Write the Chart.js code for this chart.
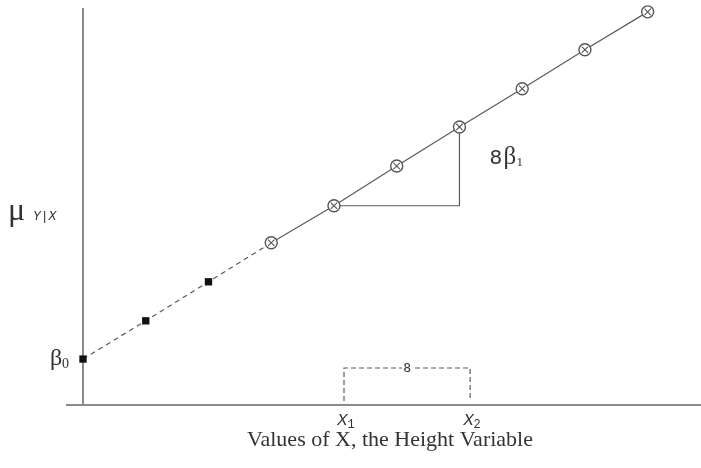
<!DOCTYPE html>
<html>
<head>
<meta charset="utf-8">
<script src="https://cdn.jsdelivr.net/npm/chart.js@4.4.0/dist/chart.umd.min.js"></script>
<style>
  html, body { margin: 0; padding: 0; background: #fff; }
  #wrap { width: 701px; height: 468px; }
</style>
</head>
<body>
<div id="wrap"><canvas id="line-chart" width="701" height="468"></canvas></div>
<script>
// values (y in units of the slope)
const xVals = [0, 1, 2, 3, 4, 5, 6, 7, 8, 9];
const yVals = [1.19, 2.18, 3.19, 4.20, 5.16, 6.19, 7.20, 8.19, 9.20, 10.18];
const squareIdx = [0, 1, 2];
const circleIdx = [3, 4, 5, 6, 7, 8, 9];
const dashedIdx = [0, 1, 2, 3];
const bracketX = [4.16, 6.17];   // X1, X2
const triangleIdx = [4, 6];      // run from point 4 to point 6

const pts = idx => idx.map(i => ({ x: xVals[i], y: yVals[i] }));

const lineColor = '#5a5a5a';
const axisColor = '#8a8a8a';
const textColor = '#333';

const annotations = {
  id: 'annotations',
  beforeDatasetsDraw(chart) {
    const ctx = chart.ctx;
    const xs = chart.scales.x, ys = chart.scales.y;
    const px = v => xs.getPixelForValue(v);
    const py = v => ys.getPixelForValue(v);
    ctx.save();
    ctx.strokeStyle = axisColor;
    ctx.lineWidth = 2;
    ctx.beginPath();
    ctx.moveTo(px(0), chart.chartArea.top);
    ctx.lineTo(px(0), py(0));
    ctx.moveTo(chart.chartArea.left, py(0));
    ctx.lineTo(chart.width, py(0));
    ctx.stroke();
    ctx.restore();
  },
  afterDatasetsDraw(chart) {
    const ctx = chart.ctx;
    const xs = chart.scales.x, ys = chart.scales.y;
    const px = v => xs.getPixelForValue(v);
    const py = v => ys.getPixelForValue(v);
    const xAxisY = py(0);

    ctx.save();
    // slope triangle
    const a = triangleIdx[0], b = triangleIdx[1];
    ctx.strokeStyle = lineColor;
    ctx.lineWidth = 1.2;
    ctx.beginPath();
    ctx.moveTo(px(xVals[a]) + 6, py(yVals[a]));
    ctx.lineTo(px(xVals[b]), py(yVals[a]));
    ctx.lineTo(px(xVals[b]), py(yVals[b]) + 6);
    ctx.stroke();

    // bracket between X1 and X2
    const bx1 = px(bracketX[0]), bx2 = px(bracketX[1]);
    const bTop = xAxisY - 37;
    ctx.setLineDash([5, 3]);
    ctx.beginPath();
    ctx.moveTo(bx1, xAxisY - 4);
    ctx.lineTo(bx1, bTop);
    ctx.lineTo(bx2, bTop);
    ctx.lineTo(bx2, xAxisY - 4);
    ctx.stroke();
    ctx.setLineDash([]);

    ctx.textBaseline = 'alphabetic';
    // "8" above bracket
    ctx.font = '13px "DejaVu Sans Mono"';
    ctx.textAlign = 'center';
    ctx.fillStyle = '#fff';
    ctx.fillRect((bx1 + bx2) / 2 - 5, bTop - 2, 10, 4);
    ctx.fillStyle = textColor;
    ctx.fillText('8', (bx1 + bx2) / 2, bTop + 4);

    // X1, X2 labels
    function subLabel(main, sub, x, y, font, subFont, dy) {
      ctx.textAlign = 'left';
      ctx.font = font;
      const w = ctx.measureText(main).width;
      ctx.font = subFont;
      const w2 = ctx.measureText(sub).width;
      const x0 = x - (w + w2) / 2;
      ctx.font = font;
      ctx.fillText(main, x0, y);
      ctx.font = subFont;
      ctx.fillText(sub, x0 + w, y + dy);
    }
    subLabel('X', '1', bx1 + 2, xAxisY + 20, 'italic 17px "Liberation Mono"', '12px "Liberation Mono"', 3);
    subLabel('X', '2', bx2 + 2, xAxisY + 20, 'italic 17px "Liberation Mono"', '12px "Liberation Mono"', 3);

    // 8β1 next to triangle
    ctx.textAlign = 'left';
    ctx.font = '20px "DejaVu Sans"';
    const lx = px(xVals[b]) + 30;
    const ly = (py(yVals[a]) + py(yVals[b])) / 2 - 2;
    ctx.fillText('8', lx, ly);
    ctx.font = '25px "Liberation Serif"';
    ctx.fillText('β', lx + 14, ly);
    ctx.font = '13px "Liberation Serif"';
    ctx.fillText('1', lx + 27, ly + 2);

    // mu_{Y|X}
    ctx.font = '32px "Liberation Serif"';
    ctx.fillText('μ', 8, 220);
    ctx.font = 'italic 13px "Liberation Mono"';
    ctx.fillText('Y|X', 33, 220);

    // beta_0
    ctx.font = '24px "Liberation Serif"';
    ctx.fillText('β', 50, 365);
    ctx.font = '14px "Liberation Serif"';
    ctx.fillText('0', 62, 368);

    // x-axis title
    ctx.font = '22px "Liberation Serif"';
    ctx.textAlign = 'center';
    ctx.fillText('Values of X, the Height Variable', 390, 446);
    ctx.restore();
  }
};

new Chart(document.getElementById('line-chart'), {
  type: 'scatter',
  data: {
    datasets: [
      {
        data: pts(dashedIdx), showLine: true, borderColor: lineColor, borderWidth: 1.2,
        borderDash: [5, 4], pointRadius: 0, order: 3, clip: false
      },
      {
        data: pts(circleIdx), showLine: true, borderColor: lineColor, borderWidth: 1.2,
        pointStyle: 'circle', pointRadius: 6, pointBorderWidth: 1.4,
        pointBorderColor: '#555', pointBackgroundColor: '#fff', order: 2, clip: false
      },
      {
        data: pts(circleIdx), showLine: false, pointStyle: 'crossRot', pointRadius: 4.5,
        pointBorderWidth: 1.1, pointBorderColor: '#555', order: 1, clip: false
      },
      {
        data: pts(squareIdx), showLine: false, pointStyle: 'rect', pointRadius: 5.2,
        pointBorderWidth: 0, pointBackgroundColor: '#111', pointBorderColor: '#111', order: 0, clip: false
      }
    ]
  },
  options: {
    responsive: false,
    animation: false,
    layout: { padding: { left: 66, right: 0, top: 8, bottom: 63 } },
    plugins: { legend: { display: false }, tooltip: { enabled: false } },
    scales: {
      x: { type: 'linear', display: false, min: -0.271, max: 9.732 },
      y: { display: false, min: 0, max: 10.28 }
    }
  },
  plugins: [annotations]
});
</script>
</body>
</html>
